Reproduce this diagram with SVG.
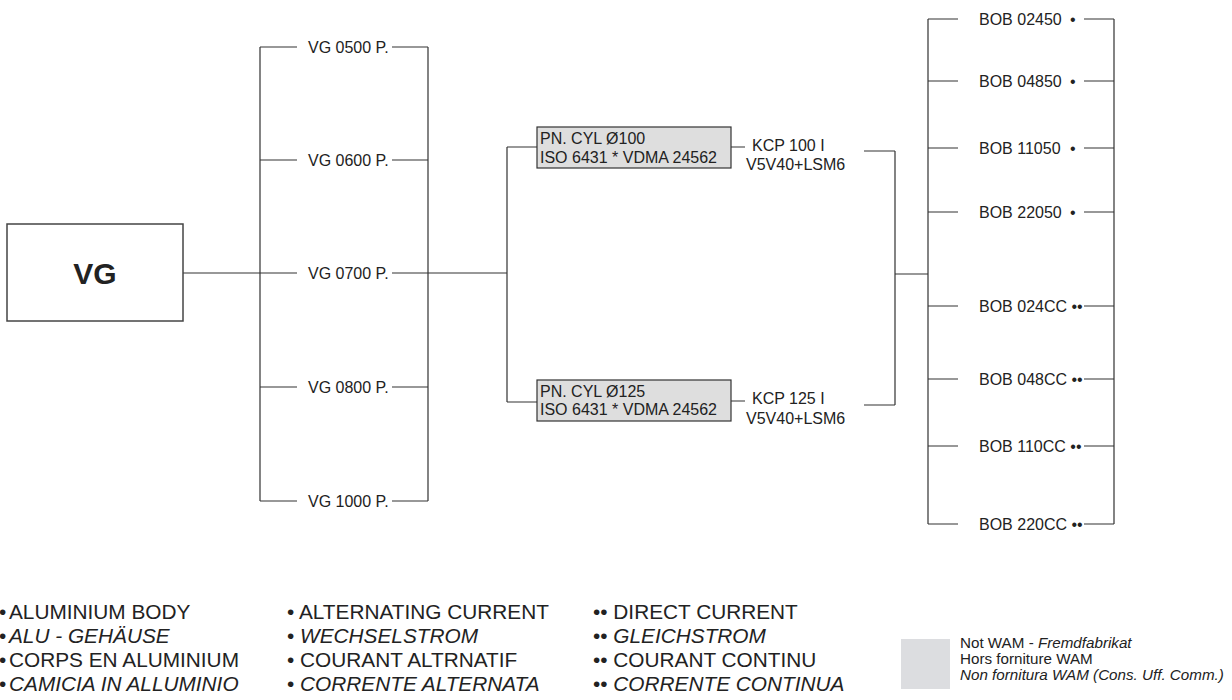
<svg xmlns="http://www.w3.org/2000/svg" width="1232" height="700" viewBox="0 0 1232 700">
<style>
text{font-family:"Liberation Sans",Arial,sans-serif;fill:#222}
.lb{font-size:16px}
.lg{font-size:20.8px}
.sm{font-size:15.2px}
.it{font-style:italic}
.bl{word-spacing:-4px}
.ln{stroke:#333;stroke-width:1.2;fill:none}
.box{fill:#fff;stroke:#444;stroke-width:1.5}
.gbox{fill:#dedede;stroke:#333;stroke-width:1.2}
</style>
<rect width="1232" height="700" fill="#fff"/>
<g id="connectors" class="ln">
<path d="M183 273H297M260 47V501M260 47H297M260 160H297M260 387H297M260 501H297"/>
<path d="M392 47H428M392 160H428M392 273H428M392 387H428M392 501H428M428 47V501"/>
<path d="M428 273H507M507 147V402M507 147H537M507 402H537"/>
<path d="M731 147H745M731 401H745"/>
<path d="M864 151H895M864 405H895M895 151V405M895 274H928"/>
<path d="M928 19V524M1114 19V524"/>
<path d="M928 19H958M928 81H958M928 148H958M928 212H958M928 306H958M928 379H958M928 446H958M928 524H958"/>
<path d="M1084 19H1114M1084 81H1114M1084 148H1114M1084 212H1114M1084 306H1114M1084 379H1114M1084 446H1114M1084 524H1114"/>
</g>
<g id="vg"><rect class="box" x="7" y="224" width="176" height="97"/><text x="95" y="284" text-anchor="middle" font-size="30" font-weight="bold">VG</text></g>
<g id="vg0500"><text class="lb" x="308" y="52.7">VG 0500 P.</text></g>
<g id="vg0600"><text class="lb" x="308" y="165.7">VG 0600 P.</text></g>
<g id="vg0700"><text class="lb" x="308" y="278.7">VG 0700 P.</text></g>
<g id="vg0800"><text class="lb" x="308" y="392.7">VG 0800 P.</text></g>
<g id="vg1000"><text class="lb" x="308" y="506.7">VG 1000 P.</text></g>
<g id="cyl100"><rect class="gbox" x="537" y="127" width="194" height="41"/><text class="lb" x="540" y="144">PN. CYL Ø100</text><text class="lb" x="540" y="163">ISO 6431 * VDMA 24562</text></g>
<g id="cyl125"><rect class="gbox" x="537" y="380" width="194" height="41"/><text class="lb" x="540" y="397">PN. CYL Ø125</text><text class="lb" x="540" y="415">ISO 6431 * VDMA 24562</text></g>
<g id="kcp100"><text class="lb" x="752" y="151">KCP 100 I</text><text class="lb" x="746" y="170">V5V40+LSM6</text></g>
<g id="kcp125"><text class="lb" x="752" y="404">KCP 125 I</text><text class="lb" x="746" y="424">V5V40+LSM6</text></g>
<g id="bob02450"><text class="lb" x="979" y="24.7">BOB 02450 <tspan x="1070">•</tspan></text></g>
<g id="bob04850"><text class="lb" x="979" y="86.7">BOB 04850 <tspan x="1070">•</tspan></text></g>
<g id="bob11050"><text class="lb" x="979" y="153.7">BOB 11050 <tspan x="1070">•</tspan></text></g>
<g id="bob22050"><text class="lb" x="979" y="217.7">BOB 22050 <tspan x="1070">•</tspan></text></g>
<g id="bob024cc"><text class="lb" x="979" y="311.7">BOB 024CC ••</text></g>
<g id="bob048cc"><text class="lb" x="979" y="384.7">BOB 048CC ••</text></g>
<g id="bob110cc"><text class="lb" x="979" y="451.7">BOB 110CC ••</text></g>
<g id="bob220cc"><text class="lb" x="979" y="529.7">BOB 220CC ••</text></g>
<g id="legend">
<text class="lg" x="-1" y="619"><tspan class="bl">• </tspan><tspan x="9">ALUMINIUM BODY</tspan></text>
<text class="lg" x="-1" y="643"><tspan class="bl">• </tspan><tspan x="9" class="it">ALU - GEHÄUSE</tspan></text>
<text class="lg" x="-1" y="667"><tspan class="bl">• </tspan><tspan x="9">CORPS EN ALUMINIUM</tspan></text>
<text class="lg" x="-1" y="691"><tspan class="bl">• </tspan><tspan x="9" class="it">CAMICIA IN ALLUMINIO</tspan></text>
<text class="lg" x="287" y="619">• ALTERNATING CURRENT</text>
<text class="lg" x="287" y="643">• <tspan class="it">WECHSELSTROM</tspan></text>
<text class="lg" x="287" y="667">• COURANT ALTRNATIF</text>
<text class="lg" x="287" y="691">• <tspan class="it">CORRENTE ALTERNATA</tspan></text>
<text class="lg" x="593" y="619">•• DIRECT CURRENT</text>
<text class="lg" x="593" y="643">•• <tspan class="it">GLEICHSTROM</tspan></text>
<text class="lg" x="593" y="667">•• COURANT CONTINU</text>
<text class="lg" x="593" y="691">•• <tspan class="it">CORRENTE CONTINUA</tspan></text>
<rect x="901" y="639" width="49" height="50" fill="#dcdde0"/>
<text class="sm" x="960" y="648">Not WAM - <tspan class="it">Fremdfabrikat</tspan></text>
<text class="sm" x="960" y="664">Hors forniture WAM</text>
<text class="sm it" x="960" y="680">Non fornitura WAM (Cons. Uff. Comm.)</text>
</g>
</svg>
